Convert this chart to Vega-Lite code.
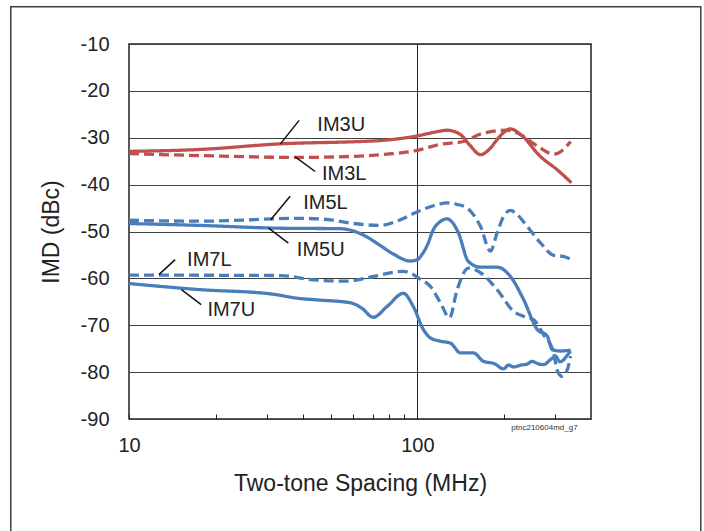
{
  "$schema": "https://vega.github.io/schema/vega-lite/v6.json",
  "width": 462,
  "height": 375,
  "autosize": "none",
  "padding": {"left": 129, "top": 44, "right": 113, "bottom": 112},
  "background": "white",
  "config": {"font": "Liberation Sans", "view": {"stroke": "#222222", "strokeWidth": 1.5}},
  "datasets": {
    "curves": [
      {"series": "IM3U", "order": "IM3", "side": "U", "mhz": 10, "dbc": -32.9},
      {"series": "IM3U", "order": "IM3", "side": "U", "mhz": 17.6, "dbc": -32.5},
      {"series": "IM3U", "order": "IM3", "side": "U", "mhz": 33.5, "dbc": -31.3},
      {"series": "IM3U", "order": "IM3", "side": "U", "mhz": 63.4, "dbc": -30.8},
      {"series": "IM3U", "order": "IM3", "side": "U", "mhz": 74.4, "dbc": -30.6},
      {"series": "IM3U", "order": "IM3", "side": "U", "mhz": 100, "dbc": -29.6},
      {"series": "IM3U", "order": "IM3", "side": "U", "mhz": 115, "dbc": -28.8},
      {"series": "IM3U", "order": "IM3", "side": "U", "mhz": 126.8, "dbc": -28.4},
      {"series": "IM3U", "order": "IM3", "side": "U", "mhz": 141, "dbc": -29.3},
      {"series": "IM3U", "order": "IM3", "side": "U", "mhz": 152, "dbc": -31.6},
      {"series": "IM3U", "order": "IM3", "side": "U", "mhz": 165.5, "dbc": -33.6},
      {"series": "IM3U", "order": "IM3", "side": "U", "mhz": 178, "dbc": -32.4},
      {"series": "IM3U", "order": "IM3", "side": "U", "mhz": 189, "dbc": -30.4},
      {"series": "IM3U", "order": "IM3", "side": "U", "mhz": 200, "dbc": -28.8},
      {"series": "IM3U", "order": "IM3", "side": "U", "mhz": 210, "dbc": -28.1},
      {"series": "IM3U", "order": "IM3", "side": "U", "mhz": 228, "dbc": -29.3},
      {"series": "IM3U", "order": "IM3", "side": "U", "mhz": 267, "dbc": -34.0},
      {"series": "IM3U", "order": "IM3", "side": "U", "mhz": 305, "dbc": -36.8},
      {"series": "IM3U", "order": "IM3", "side": "U", "mhz": 342, "dbc": -39.6},

      {"series": "IM3L", "order": "IM3", "side": "L", "mhz": 10, "dbc": -33.4},
      {"series": "IM3L", "order": "IM3", "side": "L", "mhz": 17.6, "dbc": -33.8},
      {"series": "IM3L", "order": "IM3", "side": "L", "mhz": 39.2, "dbc": -34.2},
      {"series": "IM3L", "order": "IM3", "side": "L", "mhz": 63.4, "dbc": -33.9},
      {"series": "IM3L", "order": "IM3", "side": "L", "mhz": 78.5, "dbc": -33.5},
      {"series": "IM3L", "order": "IM3", "side": "L", "mhz": 100, "dbc": -32.7},
      {"series": "IM3L", "order": "IM3", "side": "L", "mhz": 120, "dbc": -31.4},
      {"series": "IM3L", "order": "IM3", "side": "L", "mhz": 144.5, "dbc": -30.8},
      {"series": "IM3L", "order": "IM3", "side": "L", "mhz": 169.5, "dbc": -29.0},
      {"series": "IM3L", "order": "IM3", "side": "L", "mhz": 205, "dbc": -28.4},
      {"series": "IM3L", "order": "IM3", "side": "L", "mhz": 222, "dbc": -29.0},
      {"series": "IM3L", "order": "IM3", "side": "L", "mhz": 261, "dbc": -31.8},
      {"series": "IM3L", "order": "IM3", "side": "L", "mhz": 297, "dbc": -33.5},
      {"series": "IM3L", "order": "IM3", "side": "L", "mhz": 321, "dbc": -32.5},
      {"series": "IM3L", "order": "IM3", "side": "L", "mhz": 340, "dbc": -30.8},

      {"series": "IM5L", "order": "IM5", "side": "L", "mhz": 10, "dbc": -47.6},
      {"series": "IM5L", "order": "IM5", "side": "L", "mhz": 17.6, "dbc": -47.8},
      {"series": "IM5L", "order": "IM5", "side": "L", "mhz": 39.2, "dbc": -47.2},
      {"series": "IM5L", "order": "IM5", "side": "L", "mhz": 50, "dbc": -47.5},
      {"series": "IM5L", "order": "IM5", "side": "L", "mhz": 58.5, "dbc": -48.2},
      {"series": "IM5L", "order": "IM5", "side": "L", "mhz": 74.4, "dbc": -48.7},
      {"series": "IM5L", "order": "IM5", "side": "L", "mhz": 87.3, "dbc": -47.5},
      {"series": "IM5L", "order": "IM5", "side": "L", "mhz": 100, "dbc": -45.8},
      {"series": "IM5L", "order": "IM5", "side": "L", "mhz": 113.6, "dbc": -44.5},
      {"series": "IM5L", "order": "IM5", "side": "L", "mhz": 126.8, "dbc": -43.9},
      {"series": "IM5L", "order": "IM5", "side": "L", "mhz": 137, "dbc": -44.2},
      {"series": "IM5L", "order": "IM5", "side": "L", "mhz": 148.8, "dbc": -45.0},
      {"series": "IM5L", "order": "IM5", "side": "L", "mhz": 165.5, "dbc": -48.9},
      {"series": "IM5L", "order": "IM5", "side": "L", "mhz": 179.2, "dbc": -54.2},
      {"series": "IM5L", "order": "IM5", "side": "L", "mhz": 189, "dbc": -50.3},
      {"series": "IM5L", "order": "IM5", "side": "L", "mhz": 199, "dbc": -46.8},
      {"series": "IM5L", "order": "IM5", "side": "L", "mhz": 210.3, "dbc": -45.5},
      {"series": "IM5L", "order": "IM5", "side": "L", "mhz": 222, "dbc": -46.4},
      {"series": "IM5L", "order": "IM5", "side": "L", "mhz": 240.3, "dbc": -48.9},
      {"series": "IM5L", "order": "IM5", "side": "L", "mhz": 267, "dbc": -52.4},
      {"series": "IM5L", "order": "IM5", "side": "L", "mhz": 297, "dbc": -55.1},
      {"series": "IM5L", "order": "IM5", "side": "L", "mhz": 320, "dbc": -55.3},
      {"series": "IM5L", "order": "IM5", "side": "L", "mhz": 342, "dbc": -56.0},

      {"series": "IM5U", "order": "IM5", "side": "U", "mhz": 10, "dbc": -48.3},
      {"series": "IM5U", "order": "IM5", "side": "U", "mhz": 17.6, "dbc": -48.7},
      {"series": "IM5U", "order": "IM5", "side": "U", "mhz": 33.5, "dbc": -49.3},
      {"series": "IM5U", "order": "IM5", "side": "U", "mhz": 54, "dbc": -49.4},
      {"series": "IM5U", "order": "IM5", "side": "U", "mhz": 62, "dbc": -50.2},
      {"series": "IM5U", "order": "IM5", "side": "U", "mhz": 67, "dbc": -51.2},
      {"series": "IM5U", "order": "IM5", "side": "U", "mhz": 74.4, "dbc": -53.0},
      {"series": "IM5U", "order": "IM5", "side": "U", "mhz": 82.5, "dbc": -54.8},
      {"series": "IM5U", "order": "IM5", "side": "U", "mhz": 94.6, "dbc": -56.3},
      {"series": "IM5U", "order": "IM5", "side": "U", "mhz": 100, "dbc": -56.0},
      {"series": "IM5U", "order": "IM5", "side": "U", "mhz": 104, "dbc": -54.8},
      {"series": "IM5U", "order": "IM5", "side": "U", "mhz": 108.1, "dbc": -53.0},
      {"series": "IM5U", "order": "IM5", "side": "U", "mhz": 113.6, "dbc": -49.6},
      {"series": "IM5U", "order": "IM5", "side": "U", "mhz": 120, "dbc": -47.9},
      {"series": "IM5U", "order": "IM5", "side": "U", "mhz": 126.8, "dbc": -47.3},
      {"series": "IM5U", "order": "IM5", "side": "U", "mhz": 132, "dbc": -48.0},
      {"series": "IM5U", "order": "IM5", "side": "U", "mhz": 138.8, "dbc": -50.3},
      {"series": "IM5U", "order": "IM5", "side": "U", "mhz": 150.3, "dbc": -56.4},
      {"series": "IM5U", "order": "IM5", "side": "U", "mhz": 165.5, "dbc": -57.6},
      {"series": "IM5U", "order": "IM5", "side": "U", "mhz": 189, "dbc": -57.6},
      {"series": "IM5U", "order": "IM5", "side": "U", "mhz": 210.3, "dbc": -59.6},
      {"series": "IM5U", "order": "IM5", "side": "U", "mhz": 233.4, "dbc": -64.5},
      {"series": "IM5U", "order": "IM5", "side": "U", "mhz": 260.4, "dbc": -70.9},
      {"series": "IM5U", "order": "IM5", "side": "U", "mhz": 282, "dbc": -72.3},
      {"series": "IM5U", "order": "IM5", "side": "U", "mhz": 293.6, "dbc": -75.2},
      {"series": "IM5U", "order": "IM5", "side": "U", "mhz": 313.7, "dbc": -75.5},
      {"series": "IM5U", "order": "IM5", "side": "U", "mhz": 340, "dbc": -75.3},

      {"series": "IM7L", "order": "IM7", "side": "L", "mhz": 10, "dbc": -59.3},
      {"series": "IM7L", "order": "IM7", "side": "L", "mhz": 33.5, "dbc": -59.4},
      {"series": "IM7L", "order": "IM7", "side": "L", "mhz": 43.5, "dbc": -60.3},
      {"series": "IM7L", "order": "IM7", "side": "L", "mhz": 57, "dbc": -60.6},
      {"series": "IM7L", "order": "IM7", "side": "L", "mhz": 70.3, "dbc": -59.6},
      {"series": "IM7L", "order": "IM7", "side": "L", "mhz": 89.4, "dbc": -58.5},
      {"series": "IM7L", "order": "IM7", "side": "L", "mhz": 96.8, "dbc": -59.2},
      {"series": "IM7L", "order": "IM7", "side": "L", "mhz": 102.4, "dbc": -60.2},
      {"series": "IM7L", "order": "IM7", "side": "L", "mhz": 110.9, "dbc": -61.7},
      {"series": "IM7L", "order": "IM7", "side": "L", "mhz": 120.2, "dbc": -65.2},
      {"series": "IM7L", "order": "IM7", "side": "L", "mhz": 129.2, "dbc": -68.4},
      {"series": "IM7L", "order": "IM7", "side": "L", "mhz": 137.4, "dbc": -62.4},
      {"series": "IM7L", "order": "IM7", "side": "L", "mhz": 150.3, "dbc": -57.8},
      {"series": "IM7L", "order": "IM7", "side": "L", "mhz": 165.5, "dbc": -58.8},
      {"series": "IM7L", "order": "IM7", "side": "L", "mhz": 189, "dbc": -62.4},
      {"series": "IM7L", "order": "IM7", "side": "L", "mhz": 215.4, "dbc": -67.0},
      {"series": "IM7L", "order": "IM7", "side": "L", "mhz": 233.4, "dbc": -68.1},
      {"series": "IM7L", "order": "IM7", "side": "L", "mhz": 252.7, "dbc": -68.8},
      {"series": "IM7L", "order": "IM7", "side": "L", "mhz": 273.8, "dbc": -72.0},
      {"series": "IM7L", "order": "IM7", "side": "L", "mhz": 297, "dbc": -75.9},
      {"series": "IM7L", "order": "IM7", "side": "L", "mhz": 305, "dbc": -79.5},
      {"series": "IM7L", "order": "IM7", "side": "L", "mhz": 318, "dbc": -80.9},
      {"series": "IM7L", "order": "IM7", "side": "L", "mhz": 331, "dbc": -79.5},
      {"series": "IM7L", "order": "IM7", "side": "L", "mhz": 340, "dbc": -76.6},

      {"series": "IM7U", "order": "IM7", "side": "U", "mhz": 10, "dbc": -61.1},
      {"series": "IM7U", "order": "IM7", "side": "U", "mhz": 17.6, "dbc": -62.4},
      {"series": "IM7U", "order": "IM7", "side": "U", "mhz": 30.9, "dbc": -63.3},
      {"series": "IM7U", "order": "IM7", "side": "U", "mhz": 39.2, "dbc": -64.3},
      {"series": "IM7U", "order": "IM7", "side": "U", "mhz": 45, "dbc": -64.6},
      {"series": "IM7U", "order": "IM7", "side": "U", "mhz": 58.5, "dbc": -65.2},
      {"series": "IM7U", "order": "IM7", "side": "U", "mhz": 64, "dbc": -66.3},
      {"series": "IM7U", "order": "IM7", "side": "U", "mhz": 70.3, "dbc": -68.3},
      {"series": "IM7U", "order": "IM7", "side": "U", "mhz": 78.5, "dbc": -66.0},
      {"series": "IM7U", "order": "IM7", "side": "U", "mhz": 89.4, "dbc": -63.2},
      {"series": "IM7U", "order": "IM7", "side": "U", "mhz": 96.8, "dbc": -66.0},
      {"series": "IM7U", "order": "IM7", "side": "U", "mhz": 104.9, "dbc": -70.9},
      {"series": "IM7U", "order": "IM7", "side": "U", "mhz": 110.9, "dbc": -72.7},
      {"series": "IM7U", "order": "IM7", "side": "U", "mhz": 120, "dbc": -73.4},
      {"series": "IM7U", "order": "IM7", "side": "U", "mhz": 130.2, "dbc": -73.8},
      {"series": "IM7U", "order": "IM7", "side": "U", "mhz": 141, "dbc": -75.9},
      {"series": "IM7U", "order": "IM7", "side": "U", "mhz": 156.4, "dbc": -75.9},
      {"series": "IM7U", "order": "IM7", "side": "U", "mhz": 169.5, "dbc": -77.7},
      {"series": "IM7U", "order": "IM7", "side": "U", "mhz": 185, "dbc": -78.2},
      {"series": "IM7U", "order": "IM7", "side": "U", "mhz": 198.9, "dbc": -79.3},
      {"series": "IM7U", "order": "IM7", "side": "U", "mhz": 207, "dbc": -78.5},
      {"series": "IM7U", "order": "IM7", "side": "U", "mhz": 215.4, "dbc": -78.9},
      {"series": "IM7U", "order": "IM7", "side": "U", "mhz": 228, "dbc": -78.5},
      {"series": "IM7U", "order": "IM7", "side": "U", "mhz": 240, "dbc": -78.3},
      {"series": "IM7U", "order": "IM7", "side": "U", "mhz": 250, "dbc": -77.7},
      {"series": "IM7U", "order": "IM7", "side": "U", "mhz": 262, "dbc": -78.2},
      {"series": "IM7U", "order": "IM7", "side": "U", "mhz": 273.8, "dbc": -78.4},
      {"series": "IM7U", "order": "IM7", "side": "U", "mhz": 290, "dbc": -77.3},
      {"series": "IM7U", "order": "IM7", "side": "U", "mhz": 301.4, "dbc": -76.6},
      {"series": "IM7U", "order": "IM7", "side": "U", "mhz": 312, "dbc": -77.8},
      {"series": "IM7U", "order": "IM7", "side": "U", "mhz": 321, "dbc": -77.4},
      {"series": "IM7U", "order": "IM7", "side": "U", "mhz": 330, "dbc": -76.5},
      {"series": "IM7U", "order": "IM7", "side": "U", "mhz": 340, "dbc": -75.5}
    ],
    "labels": [
      {"label": "IM3U", "mhz": 45.0, "dbc": -28.5},
      {"label": "IM3L", "mhz": 46.7, "dbc": -39.1},
      {"label": "IM5L", "mhz": 40.2, "dbc": -45.2},
      {"label": "IM5U", "mhz": 38.2, "dbc": -55.3},
      {"label": "IM7L", "mhz": 15.9, "dbc": -57.4},
      {"label": "IM7U", "mhz": 18.7, "dbc": -68.0}
    ],
    "leaders": [
      {"label": "IM3U", "mhz": 38.9, "dbc": -26.3, "mhz2": 33.5, "dbc2": -31.3},
      {"label": "IM3L", "mhz": 37.7, "dbc": -34.1, "mhz2": 44.2, "dbc2": -37.2},
      {"label": "IM5L", "mhz": 36.2, "dbc": -42.5, "mhz2": 31.0, "dbc2": -47.5},
      {"label": "IM5U", "mhz": 30.5, "dbc": -49.3, "mhz2": 35.7, "dbc2": -52.5},
      {"label": "IM7L", "mhz": 14.45, "dbc": -56.0, "mhz2": 12.7, "dbc2": -59.2},
      {"label": "IM7U", "mhz": 15.2, "dbc": -62.4, "mhz2": 17.8, "dbc2": -65.6}
    ],
    "figid": [
      {"label": "ptnc210604md_g7", "mhz": 359.5, "dbc": -91.9}
    ]
  },
  "layer": [
    {
      "encoding": {
        "x": {
          "field": "mhz", "type": "quantitative",
          "scale": {"type": "log", "domain": [10, 400]},
          "axis": {
            "title": "Two-tone Spacing (MHz)",
            "values": [10, 20, 30, 40, 50, 60, 70, 80, 90, 100, 200, 300],
            "labelExpr": "datum.value == 10 || datum.value == 100 ? toString(datum.value) : ''",
            "labelOverlap": false,
            "labelFlush": false,
            "labelFontSize": 20,
            "labelColor": "#222222",
            "labelPadding": 21,
            "ticks": true,
            "tickSize": -5,
            "tickColor": "#222222",
            "tickWidth": 1,
            "domain": false,
            "grid": true,
            "gridColor": "#222222",
            "gridWidth": 1,
            "gridOpacity": {"condition": {"test": "datum.value == 100", "value": 1}, "value": 0},
            "titleFontSize": 23,
            "titleFontWeight": "normal",
            "titleColor": "#222222",
            "titlePadding": 17
          }
        },
        "y": {
          "field": "dbc", "type": "quantitative",
          "scale": {"domain": [-90, -10]},
          "axis": {
            "title": "IMD (dBc)",
            "values": [-90, -80, -70, -60, -50, -40, -30, -20, -10],
            "labelExpr": "toString(datum.value)",
            "labelFontSize": 20,
            "labelColor": "#222222",
            "labelPadding": 20,
            "ticks": false,
            "tickSize": 0,
            "domain": false,
            "grid": true,
            "gridColor": "#404040",
            "gridWidth": 1,
            "titleFontSize": 23,
            "titleFontWeight": "normal",
            "titleColor": "#222222",
            "titlePadding": 17
          }
        }
      },
      "layer": [
        {
          "data": {"name": "curves"},
          "mark": {"type": "line", "interpolate": "monotone", "strokeWidth": 3.3, "strokeCap": "butt"},
          "encoding": {
            "color": {
              "field": "order", "type": "nominal",
              "scale": {"domain": ["IM3", "IM5", "IM7"], "range": ["#C0504D", "#4A7EBB", "#4A7EBB"]},
              "legend": null
            },
            "strokeDash": {
              "field": "side", "type": "nominal",
              "scale": {"domain": ["U", "L"], "range": [[1, 0], [10, 5]]},
              "legend": null
            },
            "detail": {"field": "series"}
          }
        },
        {
          "data": {"name": "leaders"},
          "mark": {"type": "rule", "color": "#111111", "strokeWidth": 1.5},
          "encoding": {
            "x2": {"field": "mhz2"},
            "y2": {"field": "dbc2"}
          }
        },
        {
          "data": {"name": "labels"},
          "mark": {"type": "text", "align": "left", "baseline": "alphabetic", "fontSize": 20, "color": "#222222"},
          "encoding": {
            "text": {"field": "label"}
          }
        },
        {
          "data": {"name": "figid"},
          "mark": {"type": "text", "align": "right", "baseline": "middle", "fontSize": 8, "color": "#333333", "clip": false},
          "encoding": {
            "text": {"field": "label"}
          }
        }
      ]
    },
    {
      "data": {"values": [{}]},
      "mark": {"type": "rect", "filled": false, "stroke": "#404040", "strokeWidth": 1.5, "clip": false},
      "encoding": {
        "x": {"datum": 3.89, "type": "quantitative", "scale": {"type": "log", "domain": [10, 400]}, "title": "Two-tone Spacing (MHz)"},
        "x2": {"datum": 961},
        "y": {"datum": -2.05, "type": "quantitative", "scale": {"domain": [-90, -10]}, "title": "IMD (dBc)"},
        "y2": {"datum": -115}
      }
    }
  ]
}
